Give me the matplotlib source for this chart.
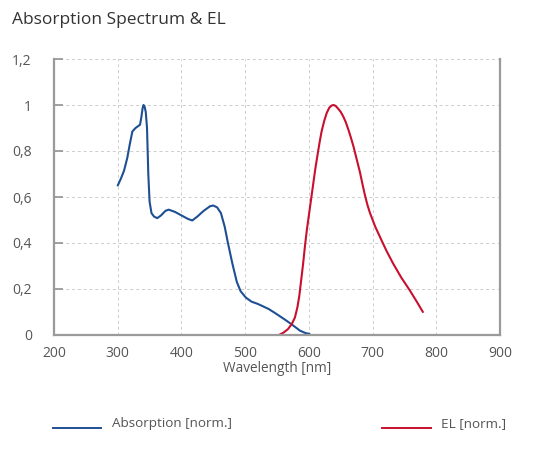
import matplotlib.pyplot as plt
from matplotlib.lines import Line2D

# absorption spectrum (normalised)
abs_wl = [300, 305, 310, 315, 319, 323, 328, 335, 337, 339, 340.5, 342, 344, 346,
          348, 350, 353, 357, 362, 368, 375, 380, 390, 400, 410, 417, 425, 435,
          445, 450, 456, 462, 468, 473, 480, 487, 493, 501, 510, 520, 537, 550,
          565, 576, 586, 595, 601]
abs_val = [0.65, 0.68, 0.715, 0.77, 0.83, 0.885, 0.90, 0.914, 0.945, 0.985, 1.0,
           0.995, 0.97, 0.90, 0.70, 0.58, 0.53, 0.515, 0.508, 0.52, 0.54, 0.545,
           0.535, 0.52, 0.505, 0.498, 0.515, 0.54, 0.56, 0.563, 0.555, 0.53, 0.47,
           0.40, 0.31, 0.23, 0.19, 0.163, 0.145, 0.135, 0.113, 0.09, 0.062, 0.04,
           0.019, 0.008, 0.005]

# electroluminescence (normalised)
el_wl = [553, 560, 567, 573, 578, 582, 585, 588, 591, 594, 597, 600, 603, 606,
         610, 614, 617, 620, 624, 628, 632, 636, 639, 642, 646, 650, 654, 658,
         662, 666, 670, 675, 680, 684, 688, 692, 696, 704, 712, 722, 732, 745,
         758, 770, 779]
el_val = [0.0, 0.01, 0.025, 0.047, 0.075, 0.12, 0.17, 0.24, 0.31, 0.39, 0.46,
          0.52, 0.58, 0.64, 0.72, 0.79, 0.84, 0.885, 0.93, 0.965, 0.988, 0.998,
          1.0, 0.996, 0.984, 0.97, 0.95, 0.925, 0.893, 0.858, 0.82, 0.765, 0.71,
          0.658, 0.608, 0.565, 0.53, 0.472, 0.424, 0.365, 0.312, 0.25, 0.196,
          0.142, 0.1]

x_ticks = [200, 300, 400, 500, 600, 700, 800, 900]
y_ticks = [0, 0.2, 0.4, 0.6, 0.8, 1.0, 1.2]
y_labels = ['0', '0,2', '0,4', '0,6', '0,8', '1', '1,2']

blue = '#1f4f93'
red = '#c8102e'
grey = '#9a9a9a'
text_col = '#555555'

plt.rcParams['font.family'] = ['Open Sans', 'DejaVu Sans']

fig = plt.figure(figsize=(5.33, 4.5), dpi=100)
ax = fig.add_axes([54 / 533, 115 / 450, 446 / 533, 276 / 450])

ax.plot(abs_wl, abs_val, color=blue, lw=1.5, solid_capstyle='round',
        solid_joinstyle='round')
ax.plot(el_wl, el_val, color=red, lw=1.5, solid_capstyle='round',
        solid_joinstyle='round')

ax.set_xlim(200, 900)
ax.set_ylim(0, 1.2)
ax.set_xticks(x_ticks)
ax.set_yticks(y_ticks)
ax.set_yticklabels(y_labels)
ax.grid(True, color='#cccccc', linestyle=(0, (3, 3)), linewidth=0.7)
ax.set_axisbelow(True)

for side in ['left', 'right', 'bottom']:
    ax.spines[side].set_color(grey)
    ax.spines[side].set_linewidth(1.6)
ax.spines['top'].set_visible(False)

ax.tick_params(axis='y', direction='in', length=6.5, width=1.3, color=grey,
               pad=16, labelsize=10, labelcolor=text_col)
ax.tick_params(axis='x', length=0, pad=8, labelsize=10, labelcolor=text_col)
ax.set_xlabel('Wavelength [nm]', fontsize=9.8, color=text_col, labelpad=0)

fig.text(12 / 533, 1 - 20 / 450, 'Absorption Spectrum & EL', fontsize=12.5,
         color='#333333', va='center', ha='left')

# legend drawn at the bottom of the figure
ly = 1 - 428 / 450
fig.add_artist(Line2D([53 / 533, 101 / 533], [ly, ly], color=blue, lw=1.4))
fig.text(112 / 533, 1 - 424 / 450, 'Absorption [norm.]', fontsize=9.7,
         color=text_col, va='center', ha='left')
fig.add_artist(Line2D([382 / 533, 431 / 533], [ly, ly], color=red, lw=1.4))
fig.text(441 / 533, 1 - 424 / 450, 'EL [norm.]', fontsize=9.7,
         color=text_col, va='center', ha='left')

fig.savefig('out.png', dpi=100)
